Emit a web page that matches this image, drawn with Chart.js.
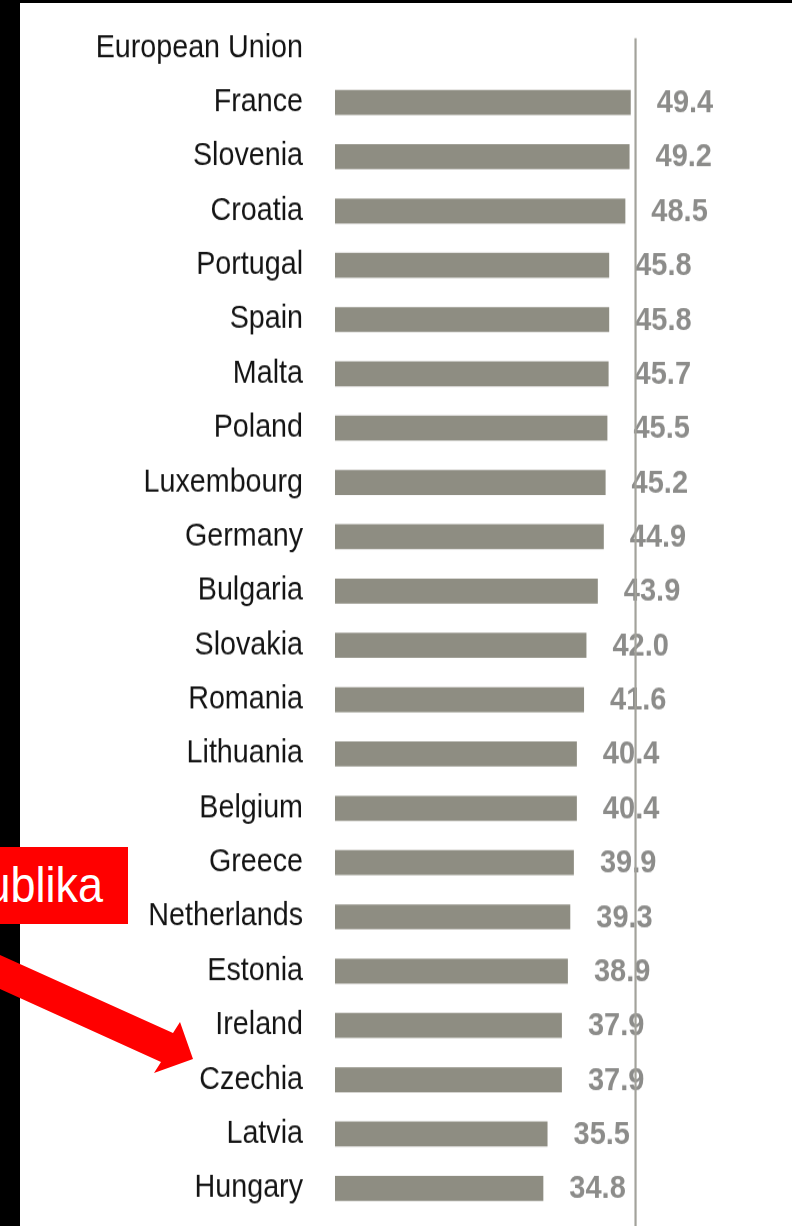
<!DOCTYPE html>
<html>
<head>
<meta charset="utf-8">
<script src="https://cdn.jsdelivr.net/npm/chart.js@4/dist/chart.umd.min.js"></script>
<style>
  html, body { margin: 0; padding: 0; background: #fff; overflow: hidden; }
  body { width: 792px; height: 1226px; position: relative; font-family: "Liberation Sans", Arial, sans-serif; }
  #wrap { position: absolute; left: 0; top: 0; width: 792px; height: 1115px; transform: scaleY(1.1); transform-origin: 0 0; z-index: 3; }
  .strip { position: absolute; background: #000; z-index: 2; }
  #callout { position: absolute; left: -300px; width: 403px; top: 770px; height: 70px; padding-right: 25px;
    background: #ff0000; color: #fff; font-size: 45px; display: flex; align-items: center; justify-content: flex-end;
    white-space: nowrap; }
  #arrow { position: absolute; left: 0; top: 0; z-index: 4; }
</style>
</head>
<body>
<div class="strip" style="left:0;top:0;width:20px;height:1226px"></div>
<div class="strip" style="left:0;top:0;width:792px;height:3px"></div>
<div id="wrap">
  <canvas id="chart"></canvas>
  <div id="callout">Česká republika</div>
</div>
<svg id="arrow" width="792" height="1226">
  <polygon fill="#ff0000" points="-9,951 173,1033 180,1022 193,1059 154,1073 161,1062 -22,979"/>
</svg>
<script>
const countries = ["European Union", "France", "Slovenia", "Croatia", "Portugal", "Spain", "Malta", "Poland",
  "Luxembourg", "Germany", "Bulgaria", "Slovakia", "Romania", "Lithuania", "Belgium", "Greece",
  "Netherlands", "Estonia", "Ireland", "Czechia", "Latvia", "Hungary"];
const values = [null, 49.4, 49.2, 48.5, 45.8, 45.8, 45.7, 45.5, 45.2, 44.9, 43.9, 42.0, 41.6,
  40.4, 40.4, 39.9, 39.3, 38.9, 37.9, 37.9, 35.5, 34.8];
const euLine = 50.2;

const FONT = '"Liberation Sans", Arial, sans-serif';

const valueLabels = {
  id: "valueLabels",
  afterDatasetsDraw(chart) {
    const ctx = chart.ctx;
    const meta = chart.getDatasetMeta(0);
    ctx.save();
    ctx.font = "bold 29px " + FONT;
    ctx.fillStyle = "#8c8c8a";
    ctx.textAlign = "left";
    ctx.textBaseline = "middle";
    meta.data.forEach((bar, i) => {
      if (values[i] == null) return;
      ctx.fillText(values[i].toFixed(1), bar.x + 26, bar.y + 1);
    });
    ctx.restore();
  }
};

const refLine = {
  id: "refLine",
  afterDraw(chart) {
    const ctx = chart.ctx;
    const x = chart.scales.x.getPixelForValue(euLine);
    const top = chart.scales.y.getPixelForValue(0) - 9;
    ctx.save();
    ctx.strokeStyle = "#a3a29b";
    ctx.lineWidth = 2.2;
    ctx.beginPath();
    ctx.moveTo(x, top);
    ctx.lineTo(x, chart.height);
    ctx.stroke();
    ctx.restore();
  }
};

new Chart(document.getElementById("chart"), {
  type: "bar",
  data: {
    labels: countries,
    datasets: [{
      data: values,
      backgroundColor: "#8e8d82",
      barPercentage: 0.46,
      categoryPercentage: 1
    }]
  },
  options: {
    indexAxis: "y",
    responsive: true,
    maintainAspectRatio: false,
    animation: false,
    layout: { padding: { left: 0, right: 2, top: 19, bottom: 10 } },
    plugins: { legend: { display: false }, tooltip: { enabled: false } },
    scales: {
      x: { display: false, min: 0, max: 76 },
      y: {
        afterFit(scale) {
          scale.width = 335;
          scale.paddingTop = 0;
          scale.paddingBottom = 0;
        },
        grid: { display: false, drawTicks: false },
        border: { display: false },
        ticks: {
          autoSkip: false,
          padding: 32,
          color: "#141414",
          font: { family: FONT, size: 28.7 }
        }
      }
    }
  },
  plugins: [valueLabels, refLine]
});
</script>
</body>
</html>
